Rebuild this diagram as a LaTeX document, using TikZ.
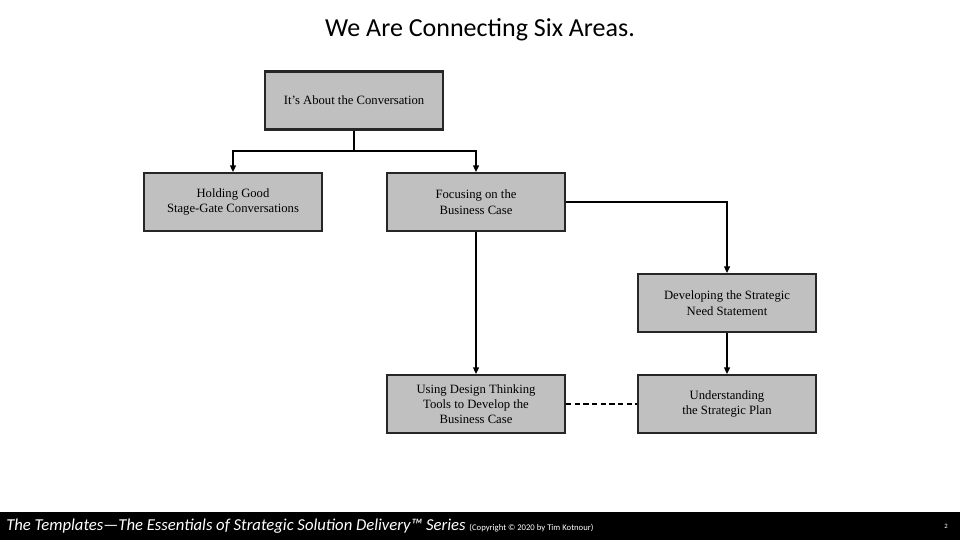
\documentclass[tikz,border=0pt]{standalone}
\usepackage{fontspec}
\setmainfont{Liberation Serif}
\newfontfamily\calfont{Carlito}
\usetikzlibrary{arrows.meta}
\definecolor{boxgray}{HTML}{C0C0C0}
\begin{document}
\begin{tikzpicture}[x=0.75pt,y=-0.75pt,
  box/.style={draw=black!85,line width=1.6pt,fill=boxgray,minimum width=133.5pt,minimum height=43.5pt,align=center,font=\fontsize{9.5}{11.5}\selectfont,inner sep=1pt},
  conn/.style={line width=1.1pt,-{Triangle[length=5pt,width=4.5pt]}},
  line/.style={line width=1.1pt}]
\useasboundingbox (0,0) rectangle (960,540);
\fill[black] (0,512) rectangle (960,540);
\node (title) at (480,30) {\calfont\fontsize{19.5}{22}\selectfont We Are Connecting Six Areas.};
\node[box] (top) at (354,100.5) {It's About the Conversation};
\node[box] (hold) at (233,202) {Holding Good\\Stage-Gate Conversations};
\node[box] (focus) at (476,202) {Focusing on the\\Business Case};
\node[box] (dev) at (727,303) {Developing the Strategic\\Need Statement};
\node[box] (use) at (476,404) {Using Design Thinking\\Tools to Develop the\\Business Case};
\node[box] (und) at (727,404) {Understanding\\the Strategic Plan};
\coordinate (j) at (354,151);
\draw[line] (top.south) -- (j);
\draw[conn] (j) -| (hold.north);
\draw[conn] (j) -| (focus.north);
\draw[conn] (focus.east) -| (dev.north);
\draw[conn] (focus.south) -- (use.north);
\draw[conn] (dev.south) -- (und.north);
\draw[line,dashed,dash pattern=on 4pt off 2.5pt] (use.east) -- (und.west);
\node[anchor=west,text=white,inner sep=0] (foot) at (6,526) {\calfont\itshape\fontsize{12.5}{14}\selectfont The Templates—The Essentials of Strategic Solution Delivery™ Series {\upshape\fontsize{6.5}{8}\selectfont (Copyright © 2020 by Tim Kotnour)}};
\node[text=white,inner sep=0] (pg) at (946,526) {\calfont\fontsize{5}{6}\selectfont 2};
\end{tikzpicture}
\end{document}
